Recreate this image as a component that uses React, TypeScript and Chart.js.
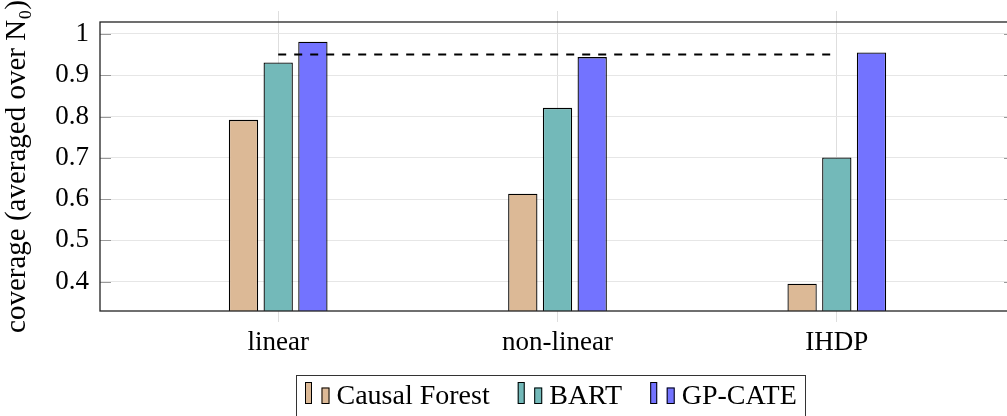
import React, { useEffect, useRef } from "react";
import { Chart, registerables } from "chart.js";

Chart.register(...registerables);

const categories = ["linear", "non-linear", "IHDP"];
const causalForest = [0.792, 0.613, 0.395];
const bart = [0.931, 0.821, 0.701];
const gpCate = [0.981, 0.944, 0.955];
const nominal = 0.95;
const yTicks = [0.4, 0.5, 0.6, 0.7, 0.8, 0.9, 1];
const yTickLabels = ["0.4", "0.5", "0.6", "0.7", "0.8", "0.9", "1"];

const FONT = '"Liberation Serif", "DejaVu Serif", serif';

const framePlugin = {
  id: "frame",
  afterDatasetsDraw(chart: any) {
    const { ctx, chartArea } = chart;
    const { left, right, top, bottom } = chartArea;
    const ys = chart.scales.y;
    ctx.save();
    ctx.strokeStyle = "#9a9a9a";
    ctx.lineWidth = 1;
    yTicks.forEach((v) => {
      const py = Math.round(ys.getPixelForValue(v)) + 0.5;
      ctx.beginPath();
      ctx.moveTo(left, py);
      ctx.lineTo(left + 11, py);
      ctx.moveTo(right - 11, py);
      ctx.lineTo(right, py);
      ctx.stroke();
    });
    ctx.strokeStyle = "#222";
    ctx.lineWidth = 1.3;
    ctx.strokeRect(left, top, right - left, bottom - top);
    ctx.restore();
  },
};

const legendPlugin = {
  id: "boxLegend",
  afterDraw(chart: any) {
    const { ctx, chartArea } = chart;
    const { left, bottom } = chartArea;
    const items = chart.data.datasets.filter((d: any) => d.type !== "line");
    ctx.save();
    ctx.font = "28px " + FONT;
    const widths = items.map((d: any) => ctx.measureText(d.label).width);
    const padL = 9, padR = 8, i1w = 7, g1 = 9.5, i2w = 8, g2 = 7, itemGap = 28;
    let total = padL + padR;
    items.forEach((d: any, i: number) => {
      total += i1w + g1 + i2w + g2 + widths[i] + (i < items.length - 1 ? itemGap : 0);
    });
    const x0 = left + 196;
    const top = bottom + 64;
    ctx.strokeStyle = "#333";
    ctx.lineWidth = 1;
    ctx.strokeRect(Math.round(x0) + 0.5, Math.round(top) + 0.5, Math.round(total), 80);
    const base = bottom + 93;
    let x = x0 + padL;
    items.forEach((d: any, i: number) => {
      ctx.fillStyle = d.backgroundColor;
      ctx.strokeStyle = "#000";
      ctx.lineWidth = 1;
      ctx.fillRect(x, base - 22, i1w, 22);
      ctx.strokeRect(x + 0.5, base - 22 + 0.5, i1w - 1, 22 - 1);
      x += i1w + g1;
      ctx.fillRect(x, base - 16.5, i2w, 16.5);
      ctx.strokeRect(x + 0.5, base - 16.5 + 0.5, i2w - 1, 16.5 - 1);
      x += i2w + g2;
      ctx.fillStyle = "#000";
      ctx.textBaseline = "alphabetic";
      ctx.textAlign = "left";
      ctx.fillText(d.label, x, base);
      x += widths[i] + itemGap;
    });
    ctx.restore();
  },
};

export default function App() {
  const ref = useRef<HTMLCanvasElement | null>(null);
  useEffect(() => {
    if (!ref.current) return;
    const setTicks = (scale: any) => {
      scale.ticks = categories.map((_, i) => ({ value: i }));
    };
    const mk = (label: string, vals: number[], color: string) => ({
      type: "bar" as const,
      label,
      data: categories.map((_, i) => ({ x: i, y: vals[i] })),
      backgroundColor: color,
      borderColor: "#000",
      borderWidth: 1.3,
      borderSkipped: "start" as const,
      categoryPercentage: 0.3727,
      barPercentage: 0.845,
      order: 1,
    });
    const chart = new Chart(ref.current, {
      type: "bar",
      data: {
        datasets: [
          mk("Causal Forest", causalForest, "rgb(220,185,150)"),
          mk("BART", bart, "rgb(115,185,185)"),
          mk("GP-CATE", gpCate, "rgb(115,115,255)"),
          {
            type: "line",
            label: "nominal",
            data: [
              { x: 0, y: nominal },
              { x: categories.length - 1, y: nominal },
            ],
            borderColor: "#000",
            borderWidth: 2,
            borderDash: [8, 8],
            pointRadius: 0,
            fill: false,
            order: 0,
          } as any,
        ],
      },
      options: {
        responsive: false,
        animation: false,
        events: [],
        devicePixelRatio: 1,
        layout: { padding: { left: 0, right: 10, top: 6, bottom: 0 } },
        plugins: { legend: { display: false }, tooltip: { enabled: false } },
        scales: {
          x: {
            type: "linear",
            position: "bottom",
            offset: false,
            min: -0.638,
            max: 2.638,
            afterBuildTicks: setTicks,
            afterFit: (s: any) => {
              s.height = 105;
              s.paddingLeft = 0;
              s.paddingRight = 0;
            },
            ticks: {
              callback: (v: any) => categories[v as number],
              color: "#000",
              font: { family: FONT, size: 27 },
              padding: 5,
              maxRotation: 0,
              autoSkip: false,
            },
            grid: { offset: false, color: "#dedede", tickLength: 11, tickColor: "#dedede" },
            border: { display: false },
          },
          xTop: {
            type: "linear",
            position: "top",
            offset: false,
            min: -0.638,
            max: 2.638,
            afterBuildTicks: setTicks,
            afterFit: (s: any) => {
              s.height = 16;
              s.paddingLeft = 0;
              s.paddingRight = 0;
            },
            ticks: { display: false },
            grid: { offset: false, drawOnChartArea: false, tickLength: 11, tickColor: "#dedede" },
            border: { display: false },
          },
          y: {
            type: "linear",
            min: 0.329,
            max: 1.029,
            afterBuildTicks: (s: any) => {
              s.ticks = yTicks.map((v) => ({ value: v }));
            },
            afterFit: (s: any) => {
              s.width = 100;
              s.paddingTop = 0;
              s.paddingBottom = 0;
            },
            ticks: {
              callback: (v: any) => yTickLabels[yTicks.indexOf(Number((v as number).toFixed(1)))] ?? "",
              color: "#000",
              font: { family: FONT, size: 27 },
              padding: 11,
            },
            grid: { color: "#e6e6e6", drawTicks: false },
            border: { display: false },
            title: {
              display: true,
              text: "coverage (averaged over N₀)",
              color: "#000",
              font: { family: FONT, size: 29 },
              padding: { top: 0, bottom: 0 },
            },
          },
        },
      },
      plugins: [framePlugin, legendPlugin],
    } as any);
    return () => chart.destroy();
  }, []);
  return (
    <div style={{ position: "absolute", left: 0, top: 0, width: 1007, height: 416, overflow: "hidden" }}>
      <canvas ref={ref} width={1025} height={416} style={{ display: "block" }} />
    </div>
  );
}
